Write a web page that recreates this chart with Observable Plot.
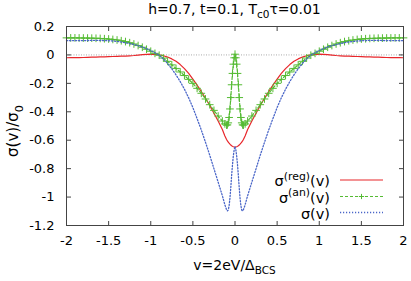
<!DOCTYPE html>
<html><head><meta charset="utf-8">
<script src="https://cdn.jsdelivr.net/npm/d3@7"></script>
<script src="https://cdn.jsdelivr.net/npm/@observablehq/plot@0.6"></script>
<style>
html,body{margin:0;padding:0;background:#fff;}
#chart svg{display:block;}
</style></head><body><div id="chart"></div>
<script>
// ---- data ----
const v = [-2,-1.95,-1.9,-1.85,-1.8,-1.75,-1.7,-1.65,-1.6,-1.55,-1.5,-1.45,-1.4,-1.35,-1.3,-1.25,-1.2,-1.15,-1.1,-1.05,-1,-0.95,-0.9,-0.85,-0.8,-0.75,-0.7,-0.65,-0.6,-0.55,-0.5,-0.45,-0.4,-0.35,-0.3,-0.25,-0.2,-0.15,-0.12,-0.1,-0.09,-0.08,-0.07,-0.06,-0.05,-0.04,-0.03,-0.02,-0.01,0,
  0.01,0.02,0.03,0.04,0.05,0.06,0.07,0.08,0.09,0.1,0.12,0.15,0.2,0.25,0.3,0.35,0.4,0.45,0.5,0.55,0.6,0.65,0.7,0.75,0.8,0.85,0.9,0.95,1,1.05,1.1,1.15,1.2,1.25,1.3,1.35,1.4,1.45,1.5,1.55,1.6,1.65,1.7,1.75,1.8,1.85,1.9,1.95,2];
const sigmaReg = [-0.020,-0.0195,-0.019,-0.0185,-0.018,-0.017,-0.016,-0.015,-0.014,-0.013,-0.012,-0.011,-0.010,-0.009,-0.008,-0.006,-0.004,-0.001,0.002,0.004,0.005,0.004,0.000,-0.006,-0.015,-0.028,-0.045,-0.068,-0.096,-0.130,-0.170,-0.213,-0.258,-0.305,-0.355,-0.410,-0.465,-0.525,-0.570,-0.595,-0.605,-0.613,-0.621,-0.628,-0.634,-0.639,-0.643,-0.646,-0.648,-0.648,
  -0.648,-0.646,-0.643,-0.639,-0.634,-0.628,-0.621,-0.613,-0.605,-0.595,-0.570,-0.525,-0.465,-0.410,-0.355,-0.305,-0.258,-0.213,-0.170,-0.130,-0.096,-0.068,-0.045,-0.028,-0.015,-0.006,0.000,0.004,0.005,0.004,0.002,-0.001,-0.004,-0.006,-0.008,-0.009,-0.010,-0.011,-0.012,-0.013,-0.014,-0.015,-0.016,-0.017,-0.018,-0.0185,-0.019,-0.0195,-0.020];
const sigmaAn = [0.120,0.120,0.120,0.1195,0.119,0.1185,0.118,0.117,0.116,0.114,0.112,0.109,0.105,0.100,0.094,0.086,0.077,0.066,0.054,0.040,0.026,0.011,-0.002,-0.022,-0.045,-0.070,-0.095,-0.120,-0.145,-0.172,-0.200,-0.235,-0.270,-0.310,-0.350,-0.390,-0.430,-0.465,-0.485,-0.494,-0.492,-0.478,-0.440,-0.380,-0.300,-0.210,-0.130,-0.065,-0.020,0.005,
  -0.020,-0.065,-0.130,-0.210,-0.300,-0.380,-0.440,-0.478,-0.492,-0.494,-0.485,-0.465,-0.430,-0.390,-0.350,-0.310,-0.270,-0.235,-0.200,-0.172,-0.145,-0.120,-0.095,-0.070,-0.045,-0.022,-0.002,0.011,0.026,0.040,0.054,0.066,0.077,0.086,0.094,0.100,0.105,0.109,0.112,0.114,0.116,0.117,0.118,0.1185,0.119,0.1195,0.120,0.120,0.120];
const sigmaTot = [0.100,0.1005,0.101,0.101,0.101,0.1015,0.102,0.102,0.102,0.101,0.100,0.098,0.095,0.091,0.086,0.080,0.073,0.065,0.056,0.044,0.031,0.015,-0.002,-0.028,-0.060,-0.098,-0.140,-0.188,-0.241,-0.302,-0.370,-0.448,-0.528,-0.615,-0.705,-0.800,-0.895,-0.990,-1.055,-1.089,-1.097,-1.091,-1.061,-1.008,-0.934,-0.849,-0.773,-0.711,-0.668,-0.643,
  -0.668,-0.711,-0.773,-0.849,-0.934,-1.008,-1.061,-1.091,-1.097,-1.089,-1.055,-0.990,-0.895,-0.800,-0.705,-0.615,-0.528,-0.448,-0.370,-0.302,-0.241,-0.188,-0.140,-0.098,-0.060,-0.028,-0.002,0.015,0.031,0.044,0.056,0.065,0.073,0.080,0.086,0.091,0.095,0.098,0.100,0.101,0.102,0.102,0.102,0.1015,0.101,0.101,0.101,0.1005,0.100];

const xTicks = [-2,-1.5,-1,-0.5,0,0.5,1,1.5,2];
const xTickLabels = ["-2","-1.5","-1","-0.5","0","0.5","1","1.5","2"];
const yTicks = [0.2,0,-0.2,-0.4,-0.6,-0.8,-1,-1.2];
const yTickLabels = ["0.2","0","-0.2","-0.4","-0.6","-0.8","-1","-1.2"];

const seriesNames = ["reg","an",""];
const colors = {reg:"#e8262b", an:"#55bb33", tot:"#4a66c8"};

// ---- build ----
const rows = v.map((d,i)=>({v:d, reg:sigmaReg[i], an:sigmaAn[i], tot:sigmaTot[i]}));
const lab = (ticks, labels) => d => { const i = ticks.findIndex(t => Math.abs(t-d) < 1e-9); return i < 0 ? "" : labels[i]; };
const FONT = "'DejaVu Sans', sans-serif";

const plot = Plot.plot({
  width: 411, height: 281,
  marginLeft: 66, marginRight: 8, marginTop: 26, marginBottom: 56,
  style: {fontFamily: FONT, fontSize: "13px", color: "#000", background: "#fff"},
  x: {domain: [-2, 2]},
  y: {domain: [-1.2, 0.2]},
  marks: [
    Plot.ruleY([0], {stroke: "#aaa", strokeDasharray: "1,1.5", strokeWidth: 1}),
    Plot.line(rows, {x: "v", y: "reg", stroke: colors.reg, strokeWidth: 1.2}),
    Plot.line(rows, {x: "v", y: "an", stroke: colors.an, strokeWidth: 1.2, strokeDasharray: "3,2"}),
    Plot.dot(rows, {x: "v", y: "an", symbol: "plus", r: 2.6, stroke: colors.an, strokeWidth: 1}),
    Plot.line(rows, {x: "v", y: "tot", stroke: colors.tot, strokeWidth: 1.3, strokeDasharray: "1.2,1.8"}),
    Plot.frame({stroke: "#444"}),
    Plot.axisX({anchor: "bottom", ticks: xTicks, tickFormat: lab(xTicks, xTickLabels), tickSize: -4, tickPadding: 14, label: null, stroke: "#444"}),
    Plot.axisX({anchor: "top", ticks: xTicks, tickFormat: () => "", tickSize: -4, label: null, stroke: "#444"}),
    Plot.axisY({anchor: "left", ticks: yTicks, tickFormat: lab(yTicks, yTickLabels), tickSize: -5, tickPadding: 17, label: null, stroke: "#444"}),
    Plot.axisY({anchor: "right", ticks: yTicks, tickFormat: () => "", tickSize: -5, label: null, stroke: "#444"})
  ]
});
document.getElementById("chart").appendChild(plot);

// ---- texts with sub/superscripts ----
const svg = d3.select(plot);
function richText(g, parts, size) {
  const t = g.append("text").attr("font-family", FONT).attr("font-size", size).attr("fill", "#000");
  let shift = 0;
  parts.forEach(p => {
    const s = t.append("tspan").text(p.t);
    let target = 0, fs = size;
    if (p.sub) { target = size * 0.32; fs = size * 0.75; }
    if (p.sup) { target = -size * 0.42; fs = size * 0.75; }
    s.attr("font-size", fs).attr("dy", target - shift);
    shift = target;
  });
  return t;
}
// title
richText(svg.append("g"), [{t:"h=0.7, t=0.1, T"},{t:"c0",sub:true},{t:"τ=0.01"}], 14)
  .attr("x", 234.5).attr("y", 14).attr("text-anchor", "middle");
// x label
richText(svg.append("g"), [{t:"v=2eV/Δ"},{t:"BCS",sub:true}], 14)
  .attr("x", 234.5).attr("y", 270).attr("text-anchor", "middle");
// y label
richText(svg.append("g").attr("transform", "translate(18,131) rotate(-90)"), [{t:"σ(v)/σ"},{t:"0",sub:true}], 15)
  .attr("text-anchor", "middle");

// legend
const legend = [
  {parts:[{t:"σ"},{t:"(reg)",sup:true},{t:"(v)"}], key:"reg", y:180},
  {parts:[{t:"σ"},{t:"(an)",sup:true},{t:"(v)"}], key:"an", y:196.5},
  {parts:[{t:"σ(v)"}], key:"tot", y:212.5}
];
const lg = svg.append("g");
legend.forEach(L => {
  richText(lg, L.parts, 14.5).attr("x", 330).attr("y", L.y + 6).attr("text-anchor", "end");
  const ln = lg.append("line").attr("x1", 340).attr("x2", 383).attr("y1", L.y).attr("y2", L.y)
    .attr("stroke", colors[L.key]).attr("stroke-width", L.key === "tot" ? 1.3 : 1.2);
  if (L.key === "an") {
    ln.attr("stroke-dasharray", "3,2");
    lg.append("path").attr("d", `M${361.5-2.6},${L.y}h5.2M361.5,${L.y-2.6}v5.2`).attr("stroke", colors.an).attr("fill", "none");
  }
  if (L.key === "tot") ln.attr("stroke-dasharray", "1.2,1.8");
});
</script>
</body></html>
